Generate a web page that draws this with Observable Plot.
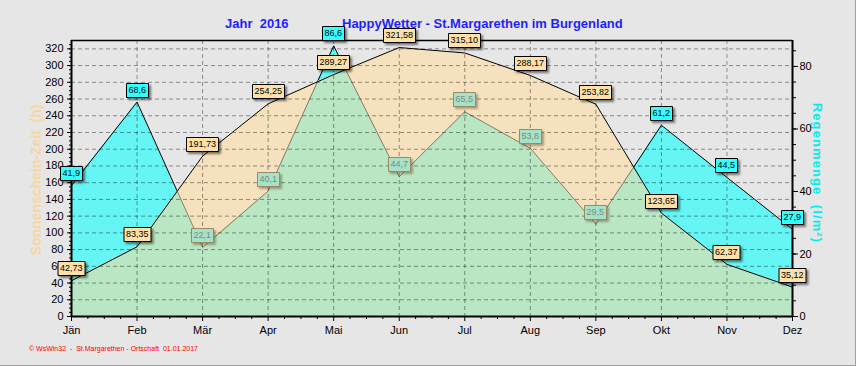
<!DOCTYPE html>
<html><head><meta charset="utf-8">
<script src="https://cdn.jsdelivr.net/npm/d3@7"></script>
<script src="https://cdn.jsdelivr.net/npm/@observablehq/plot@0.6"></script>
<style>
html,body{margin:0;padding:0;background:#e6e6e6;}
#wrap{position:relative;width:856px;height:366px;overflow:hidden;font-family:Arial,"Liberation Sans",sans-serif;background:#e6e6e6;}
#chart{position:absolute;left:0;top:0;width:856px;height:366px;}
#chart svg{position:absolute;left:0;top:0;}
.t{position:absolute;white-space:pre;line-height:1;}
.title{font-size:13px;font-weight:bold;color:#1e1eff;top:17px;}
.ylab{font-size:14px;font-weight:bold;color:#f8d6a0;left:36px;top:180px;transform:translate(-50%,-50%) rotate(-90deg);}
.ylab2{font-size:13px;font-weight:bold;letter-spacing:1.1px;color:#00eeee;left:817px;top:173px;transform:translate(-50%,-50%) rotate(90deg);}
.foot{font-size:7px;color:#ff0000;left:29px;top:345px;}
.bR{position:absolute;right:0;top:0;width:1px;height:366px;background:#a0a0a0;}
.bB{position:absolute;left:0;bottom:0;height:1px;width:856px;background:#a0a0a0;}
.tipcov text{fill:#7a8c82;}
</style></head><body>
<div id="wrap">
<div class="t title" style="left:225px">Jahr  2016</div>
<div class="t title" style="left:342px">HappyWetter - St.Margarethen im Burgenland</div>
<div class="t ylab">Sonnenschein-Zeit  (h)</div>
<div class="t ylab2">Regenmenge  (l/m²)</div>
<div class="t foot">© WsWin32  -  St.Margarethen - Ortschaft  01.01.2017</div>
<div id="chart"></div>
<div class="bR"></div><div class="bB"></div>
</div>
<script>
const months = ["Jän","Feb","Mär","Apr","Mai","Jun","Jul","Aug","Sep","Okt","Nov","Dez"];
const sunHours = [42.73, 83.35, 191.73, 254.25, 289.27, 321.58, 315.10, 288.17, 253.82, 123.65, 62.37, 35.12];
const rainMM = [41.9, 68.6, 22.1, 40.1, 86.6, 44.7, 65.5, 53.8, 29.5, 61.2, 44.5, 27.9];
const leftTicks = [0,20,40,60,80,100,120,140,160,180,200,220,240,260,280,300,320];
const rightTicks = [0,20,40,60,80];
const leftMax = 330, rightMax = 88.3;
const k = leftMax / rightMax;

const fmt = (v, d) => v.toFixed(d).replace(".", ",");
const rows = months.map((m, i) => ({
  i, m,
  sun: sunHours[i],
  rain: rainMM[i] * k,
  sunLbl: fmt(sunHours[i], 2),
  rainLbl: fmt(rainMM[i], 1),
  covered: rainMM[i] * k < sunHours[i]
}));
const idx = months.map((m, i) => i);
const xMinor = d3.range(0, 44).map(q => q / 4).filter(v => v % 1 !== 0);
const leftMinor = d3.range(0, leftMax, 5);
const rightMinor = d3.range(0, rightMax, 5).map(v => v * k);
const font = "Arial, 'Liberation Sans', sans-serif";
const shadow = "drop-shadow(2px 2px 1px rgba(0,0,0,0.5))";

const svg = Plot.plot({
  width: 856, height: 366,
  marginLeft: 71, marginRight: 64, marginTop: 40, marginBottom: 50,
  style: {background: "transparent", color: "#000", fontFamily: font, fontSize: "11px", overflow: "visible"},
  x: {domain: [0, 11]},
  y: {domain: [0, leftMax]},
  marks: [
    Plot.areaY(rows, {x: "i", y: "rain", fill: "#66f5f5"}),
    Plot.line(rows, {x: "i", y: "rain", stroke: "#000", strokeWidth: 1}),
    Plot.areaY(rows, {x: "i", y: "sun", fill: "#f5e1be"}),
    Plot.areaY(rows, {x: "i", y: "rain", fill: "#b9e6c3"}),
    Plot.line(rows, {x: "i", y: "rain", stroke: "#8c7a5c", strokeWidth: 1}),
    Plot.line(rows, {x: "i", y: "sun", stroke: "#000", strokeWidth: 1}),
    Plot.ruleY(leftTicks.filter(v => v > 0), {stroke: "#000", strokeOpacity: 0.4, strokeDasharray: "4,3"}),
    Plot.ruleX(idx.filter(i => i > 0 && i < 11), {stroke: "#000", strokeOpacity: 0.4, strokeDasharray: "4,3"}),
    Plot.ruleY([leftMax], {stroke: "#000", strokeWidth: 1.5}),
    Plot.ruleY([0], {stroke: "#000", strokeWidth: 2}),
    Plot.ruleX([0], {stroke: "#000", strokeWidth: 2}),
    Plot.ruleX([11], {stroke: "#000", strokeWidth: 2}),
    Plot.axisY(leftTicks, {anchor: "left", tickSize: 4, tickPadding: 4, fontSize: 11, label: null}),
    Plot.axisY(leftMinor, {anchor: "left", tickSize: 2, fill: "none", tickFormat: () => "", label: null}),
    Plot.axisY(rightTicks.map(v => v * k), {anchor: "right", tickSize: 5, tickPadding: 2, fontSize: 11, label: null, tickFormat: d => Math.round(d / k)}),
    Plot.axisY(rightMinor, {anchor: "right", tickSize: 3, fill: "none", tickFormat: () => "", label: null}),
    Plot.axisX(idx, {tickSize: 5, tickPadding: 5, fontSize: 11, label: null, tickFormat: i => months[i]}),
    Plot.axisX(xMinor, {tickSize: 3, fill: "none", tickFormat: () => "", label: null}),
    Plot.tip(rows.filter(d => d.covered), {x: "i", y: "rain", title: "rainLbl", anchor: "bottom", pointerSize: 0, dy: -5, textPadding: 2, fontSize: 9, fontFamily: font, fill: "#a6e2c8", stroke: "#9c8865", pathFilter: "drop-shadow(2px 2px 1px rgba(90,70,40,0.45))"}),
    Plot.tip(rows.filter(d => !d.covered), {x: "i", y: "rain", title: "rainLbl", anchor: "bottom", pointerSize: 0, dy: -5, textPadding: 2, fontSize: 9, fontFamily: font, fill: "#33ffff", stroke: "#000", pathFilter: shadow}),
    Plot.tip(rows, {x: "i", y: "sun", title: "sunLbl", anchor: "bottom", pointerSize: 0, dy: -5, textPadding: 2, fontSize: 9, fontFamily: font, fill: "#ffe0a8", stroke: "#000", pathFilter: shadow})
  ]
});

const ns = "http://www.w3.org/2000/svg";
const areas = svg.querySelectorAll('g[aria-label="area"]');
const lines = svg.querySelectorAll('g[aria-label="line"]');
const tips = svg.querySelectorAll('g[aria-label="tip"]');
const sunP = areas[1].querySelector("path");
const defs = document.createElementNS(ns, "defs");
const cp = document.createElementNS(ns, "clipPath");
cp.setAttribute("id", "sunclip");
const cpp = document.createElementNS(ns, "path");
cpp.setAttribute("d", sunP.getAttribute("d"));
cp.appendChild(cpp); defs.appendChild(cp);
svg.insertBefore(defs, svg.firstChild);
areas[2].querySelectorAll("path").forEach(p => p.setAttribute("clip-path", "url(#sunclip)"));
lines[1].querySelectorAll("path").forEach(p => p.setAttribute("clip-path", "url(#sunclip)"));
if (tips[0]) tips[0].classList.add("tipcov");
tips.forEach(g => g.querySelectorAll("text").forEach(t => {
  t.setAttribute("font-size", "9");
  t.setAttribute("font-family", font);
}));
document.getElementById("chart").appendChild(svg);
</script>
</body></html>
